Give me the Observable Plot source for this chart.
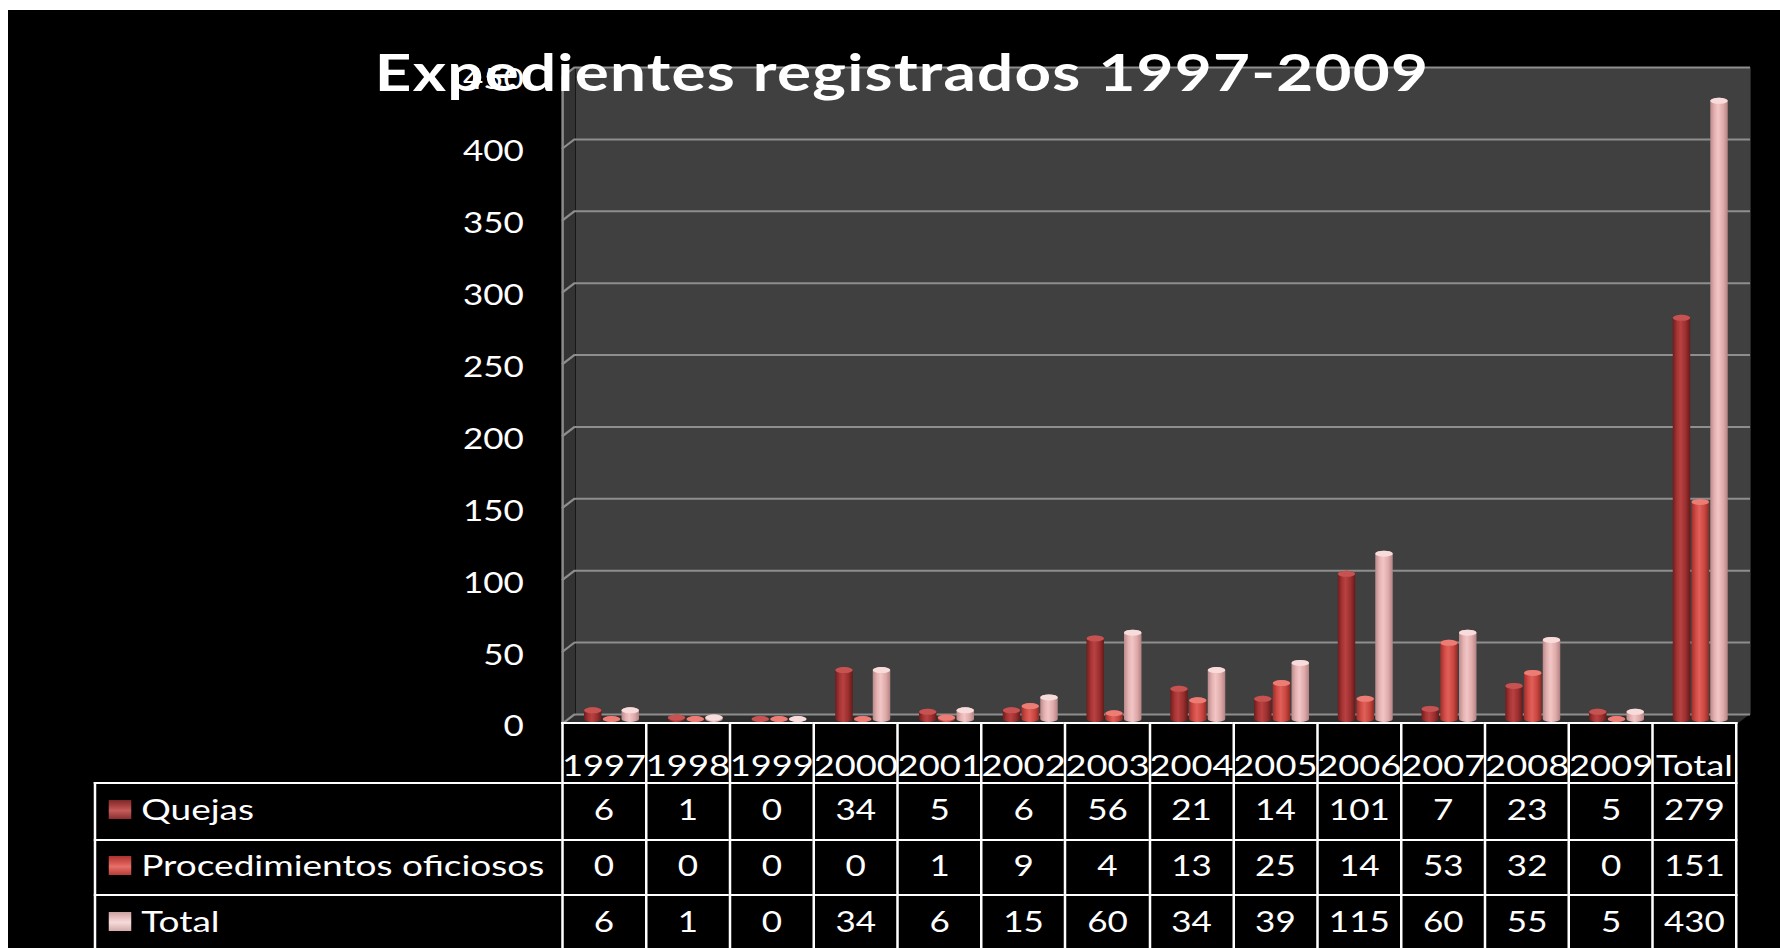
<!DOCTYPE html>
<html>
<head>
<meta charset="utf-8">
<script src="https://cdn.jsdelivr.net/npm/d3@7"></script>
<script src="https://cdn.jsdelivr.net/npm/@observablehq/plot@0.6"></script>
<style>
html, body { margin: 0; padding: 0; background: #fff; width: 1780px; height: 948px; overflow: hidden; }
#bg { position: absolute; left: 8px; top: 10px; right: 0; bottom: 0; background: #000; }
#stage { position: absolute; left: 0; top: 0; width: 1424px; height: 948px; transform: scaleX(1.25); transform-origin: 0 0; font-family: Lato, sans-serif; color: #fff; }
#stage svg { position: absolute; left: 0; top: 0; }
#title { position: absolute; left: 221.6px; width: 1000px; top: 46px; line-height: 51px; font-size: 51px; letter-spacing: 1px; font-weight: 700; text-align: center; white-space: nowrap; color: #fff; }
.cell { position: absolute; box-sizing: border-box; border-left: 2px solid #fff; border-top: 2px solid #fff; display: flex; justify-content: center; align-items: center; font-size: 28px; line-height: 28px; color: #fff; padding-bottom: 5px; white-space: nowrap; overflow: visible; }
.cell.last { border-right: 2px solid #fff; }
.cell.hdr { align-items: flex-end; padding-bottom: 3px; font-size: 29px; }
.cell.lbl { justify-content: flex-start; padding-left: 9.6px; font-size: 29.6px; }
.sw { width: 18.4px; height: 19px; margin-right: 8px; flex: none; }
.sw-q { background: linear-gradient(180deg, #7e2727 0%, #b54a4a 40%, #c45c5c 55%, #8c2e2e 100%); }
.sw-p { background: linear-gradient(180deg, #a8332f 0%, #dc5a55 40%, #e8706a 55%, #b53c37 100%); }
.sw-t { background: linear-gradient(180deg, #c9a0a0 0%, #f0cccc 40%, #f6dada 55%, #d4aaaa 100%); }
</style>
</head>
<body>
<div id="bg"></div>
<svg width="0" height="0" style="position:absolute;left:0;top:0">
  <defs>
    <linearGradient id="gQ" x1="0" x2="1" y1="0" y2="0">
      <stop offset="0" stop-color="#6e1d1d"/>
      <stop offset="0.25" stop-color="#a83434"/>
      <stop offset="0.45" stop-color="#b94141"/>
      <stop offset="0.75" stop-color="#9a2e2e"/>
      <stop offset="1" stop-color="#651a1a"/>
    </linearGradient>
    <linearGradient id="gP" x1="0" x2="1" y1="0" y2="0">
      <stop offset="0" stop-color="#9e2f2b"/>
      <stop offset="0.25" stop-color="#d24b46"/>
      <stop offset="0.45" stop-color="#e0605a"/>
      <stop offset="0.75" stop-color="#c9463f"/>
      <stop offset="1" stop-color="#8f2a26"/>
    </linearGradient>
    <linearGradient id="gT" x1="0" x2="1" y1="0" y2="0">
      <stop offset="0" stop-color="#b98a8a"/>
      <stop offset="0.25" stop-color="#e6b2b2"/>
      <stop offset="0.45" stop-color="#f2c6c6"/>
      <stop offset="0.75" stop-color="#dea9a9"/>
      <stop offset="1" stop-color="#b28383"/>
    </linearGradient>
  </defs>
</svg>
<div id="stage"></div>
<script>
// ---- data ----
const years = ["1997","1998","1999","2000","2001","2002","2003","2004","2005","2006","2007","2008","2009","Total"];
const quejas = [6, 1, 0, 34, 5, 6, 56, 21, 14, 101, 7, 23, 5, 279];
const oficiosos = [0, 0, 0, 0, 1, 9, 4, 13, 25, 14, 53, 32, 0, 151];
const totales = [6, 1, 0, 34, 6, 15, 60, 34, 39, 115, 60, 55, 5, 430];
const seriesNames = ["Quejas", "Procedimientos oficiosos", "Total"];
const capColors = ["#c65252", "#ec7d75", "#f8dcdc"];
const yTicks = [0, 50, 100, 150, 200, 250, 300, 350, 400, 450];
const titleText = "Expedientes registrados 1997-2009";

// ---- layout (unstretched coordinates, stage is scaled 1.25 horizontally) ----
const S = 1.25, W = 1780 / S, H = 948;
const ML = 562 / S, MR = W - 1737 / S, MT = 72, MB = H - 719;
const BDX = 13 / S, BDY = -5, FDY = 5, BARDX = 6 / S;

const stage = document.getElementById("stage");

// background plot: walls, gridlines, y tick labels
const bg = Plot.plot({
  width: W, height: H,
  marginLeft: ML, marginRight: MR, marginTop: MT, marginBottom: MB,
  style: {background: "transparent", color: "#fff", fontFamily: "Lato, sans-serif", overflow: "visible"},
  x: {domain: [0, years.length], axis: null},
  y: {domain: [0, 450], axis: null},
  marks: [
    Plot.frame({fill: "#404040", stroke: "none", dx: BDX, dy: BDY}),
    Plot.ruleY(yTicks, {stroke: "#8e8e8e", strokeWidth: 2, dx: BDX, dy: BDY}),
    Plot.ruleX([0], {y1: 0, y2: 450, stroke: "#8a8a8a", strokeWidth: 2, dy: FDY}),
    Plot.text(yTicks, {y: d => d, text: d => String(d), frameAnchor: "left", textAnchor: "end", dx: -31, dy: 8, fill: "#fff", fontSize: 28})
  ]
});
stage.appendChild(bg);

const ysc = bg.scale("y"), xsc = bg.scale("x");
const Y = v => ysc.apply(v), X = v => xsc.apply(v);
{
  const x0 = X(0), x1 = X(years.length), yTop = Y(450), y0 = Y(0);
  const g = d3.create("svg:g");
  g.append("polygon")
    .attr("points", [[x0, yTop + FDY], [x0 + BDX, yTop + BDY], [x0 + BDX, y0 + BDY], [x0, y0 + FDY]].join(" "))
    .attr("fill", "#333");
  g.append("polygon")
    .attr("points", [[x0, y0 + FDY], [x0 + BDX, y0 + BDY], [x1 + BDX, y0 + BDY], [x1, y0 + FDY]].join(" "))
    .attr("fill", "#2e2e2e");
  g.selectAll("line").data(yTicks).join("line")
    .attr("x1", x0 + BDX).attr("x2", x0)
    .attr("y1", d => Y(d) + BDY).attr("y2", d => Y(d) + FDY)
    .attr("stroke", "#8e8e8e").attr("stroke-width", 2);
  bg.insertBefore(g.node(), bg.children[1] || null);
}

// bars plot (grouped via facets)
const data = years.flatMap((yr, i) => [
  {year: yr, series: seriesNames[0], value: quejas[i]},
  {year: yr, series: seriesNames[1], value: oficiosos[i]},
  {year: yr, series: seriesNames[2], value: totales[i]}
]);
const bars = Plot.plot({
  width: W, height: H,
  marginLeft: ML, marginRight: MR, marginTop: MT, marginBottom: MB,
  style: {background: "transparent", overflow: "visible"},
  facet: {data, x: "year"},
  fx: {domain: years, padding: 0, axis: null},
  x: {domain: seriesNames, paddingInner: 0.04, paddingOuter: 0.7, axis: null},
  y: {domain: [0, 450], axis: null},
  color: {domain: seriesNames, range: ["url(#gQ)", "url(#gP)", "url(#gT)"]},
  marks: [
    Plot.barY(data, {x: "series", y: "value", fill: "series", rx: 7, ry: 3, insetTop: -3, insetBottom: -3, dx: BARDX}),
    ...seriesNames.map((name, k) =>
      Plot.barY(data, {filter: d => d.series === name, x: "series", y1: "value", y2: "value", fill: capColors[k], rx: 7, ry: 3, insetTop: -3, insetBottom: -3, dx: BARDX})
    )
  ]
});
stage.appendChild(bars);

// title
const title = document.createElement("div");
title.id = "title";
title.textContent = titleText;
stage.appendChild(title);

// data table
const LBL = 95 / S;
const rowTops = [723, 783, 840, 895], rowBottoms = [783, 840, 895, 952];
function addCell(left, top, w, h, cls, content) {
  const d = document.createElement("div");
  d.className = "cell " + cls;
  d.style.left = (left - 1) + "px";
  d.style.top = (top - 1) + "px";
  d.style.width = (w + (cls.includes("last") ? 1 : 0)) + "px";
  d.style.height = h + "px";
  if (typeof content === "string") d.textContent = content; else d.appendChild(content);
  stage.appendChild(d);
}
years.forEach((yr, i) => {
  addCell(X(i), rowTops[0], X(i + 1) - X(i), rowBottoms[0] - rowTops[0], "hdr" + (i === years.length - 1 ? " last" : ""), yr);
});
const rows = [[seriesNames[0], quejas, "sw-q"], [seriesNames[1], oficiosos, "sw-p"], [seriesNames[2], totales, "sw-t"]];
rows.forEach(([name, vals, sw], r) => {
  const top = rowTops[r + 1], h = rowBottoms[r + 1] - rowTops[r + 1];
  const frag = document.createDocumentFragment();
  const s = document.createElement("span"); s.className = "sw " + sw; frag.appendChild(s);
  const t = document.createElement("span"); t.textContent = name; frag.appendChild(t);
  addCell(LBL, top, X(0) - LBL, h, "lbl", frag);
  vals.forEach((v, i) => {
    addCell(X(i), top, X(i + 1) - X(i), h, i === vals.length - 1 ? "last" : "", String(v));
  });
});
</script>
</body>
</html>
